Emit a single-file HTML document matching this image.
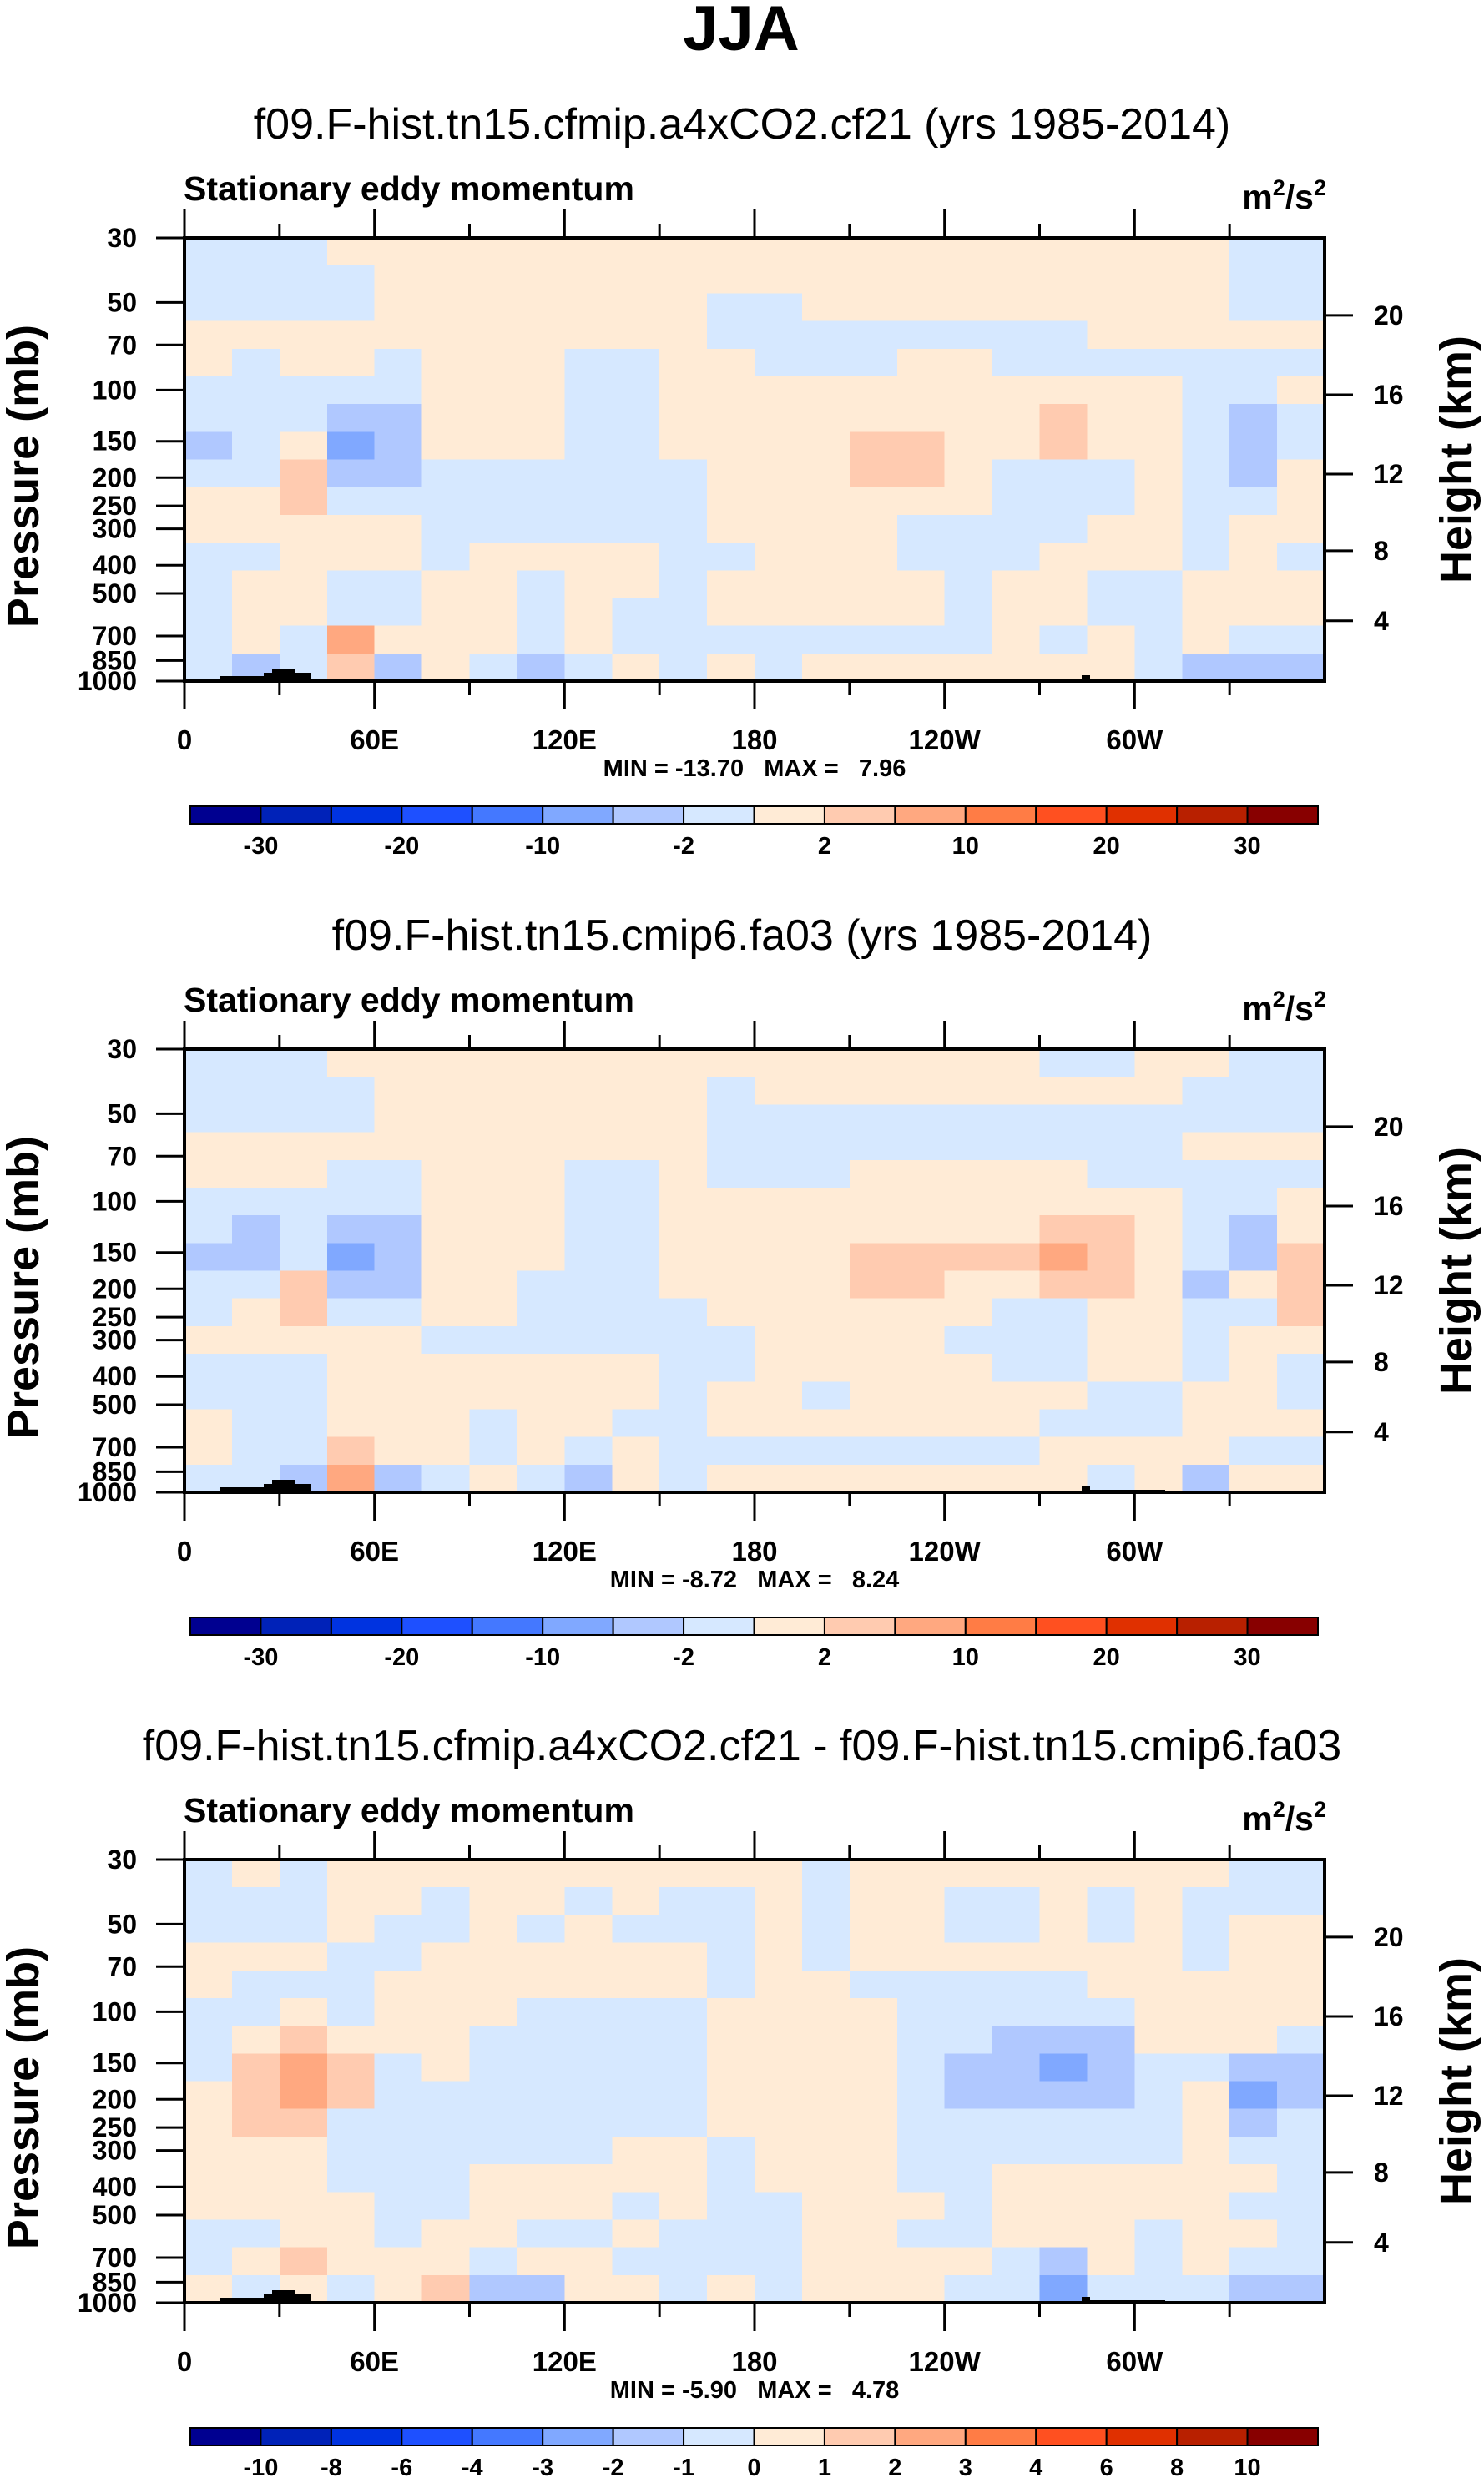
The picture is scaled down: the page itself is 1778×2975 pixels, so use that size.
<!DOCTYPE html>
<html><head><meta charset="utf-8"><style>
html,body{margin:0;padding:0;background:#fff;}
svg{display:block;font-family:"Liberation Sans",Arial,sans-serif;}
.pre{white-space:pre;}
</style></head><body>
<svg id="fig" width="1778" height="2975" viewBox="0 0 1778 2975" xmlns="http://www.w3.org/2000/svg">
<text x="888" y="60" text-anchor="middle" font-size="76" font-weight="bold">JJA</text>
</svg>
<script>
// ---- data ----
const lonTickLabels = ["0","60E","120E","180","120W","60W"];
const lonTicksMajor = [0,60,120,180,240,300];
const pressureTicks = [30,50,70,100,150,200,250,300,400,500,700,850,1000];
const heightTicks = [20,16,12,8,4];
const heightTickFrac = [0.175,0.354,0.533,0.706,0.864];
const cbLevelsA = [-30,-25,-20,-15,-10,-5,-2,0,2,5,10,15,20,25,30];
const cbShownA = [-30,-20,-10,-2,2,10,20,30];
const cbLevelsB = [-10,-8,-6,-4,-3,-2,-1,0,1,2,3,4,6,8,10];
const cbShownB = [-10,-8,-6,-4,-3,-2,-1,0,1,2,3,4,6,8,10];
const titles = ["f09.F-hist.tn15.cfmip.a4xCO2.cf21 (yrs 1985-2014)","f09.F-hist.tn15.cmip6.fa03 (yrs 1985-2014)","f09.F-hist.tn15.cfmip.a4xCO2.cf21 - f09.F-hist.tn15.cmip6.fa03"];
const minVals = ["-13.70","-8.72","-5.90"];
const maxVals = ["7.96","8.24","4.78"];

const grid1 = [
[-1,-1,-1,1,1,1,1,1,1,1,1,1,1,1,1,1,1,1,1,1,1,1,-1,-1],
[-1,-1,-1,-1,1,1,1,1,1,1,1,1,1,1,1,1,1,1,1,1,1,1,-1,-1],
[-1,-1,-1,-1,1,1,1,1,1,1,1,-1,-1,1,1,1,1,1,1,1,1,1,-1,-1],
[1,1,1,1,1,1,1,1,1,1,1,-1,-1,-1,-1,-1,-1,-1,-1,1,1,1,1,1],
[1,-1,1,1,-1,1,1,1,-1,-1,1,1,-1,-1,-1,1,1,-1,-1,-1,-1,-1,-1,-1],
[-1,-1,-1,-1,-1,1,1,1,-1,-1,1,1,1,1,1,1,1,1,1,1,1,-1,-1,1],
[-1,-1,-1,-3,-3,1,1,1,-1,-1,1,1,1,1,1,1,1,1,3,1,1,-1,-3,-1],
[-3,-1,1,-7,-3,1,1,1,-1,-1,1,1,1,1,3,3,1,1,3,1,1,-1,-3,-1],
[-1,-1,3,-3,-3,-1,-1,-1,-1,-1,-1,1,1,1,3,3,1,-1,-1,-1,1,-1,-3,1],
[1,1,3,-1,-1,-1,-1,-1,-1,-1,-1,1,1,1,1,1,1,-1,-1,-1,1,-1,-1,1],
[1,1,1,1,1,-1,-1,-1,-1,-1,-1,1,1,1,1,-1,-1,-1,-1,1,1,-1,1,1],
[-1,-1,1,1,1,-1,1,1,1,1,-1,-1,1,1,1,-1,-1,-1,1,1,1,-1,1,-1],
[-1,1,1,-1,-1,1,1,-1,1,1,-1,1,1,1,1,1,-1,1,1,-1,-1,1,1,1],
[-1,1,1,-1,-1,1,1,-1,1,-1,-1,1,1,1,1,1,-1,1,1,-1,-1,1,1,1],
[-1,1,-1,7,1,1,1,-1,1,-1,-1,-1,-1,-1,-1,-1,-1,1,-1,1,-1,1,-1,-1],
[-1,-3,-1,3,-3,1,-1,-3,-1,1,-1,1,-1,1,1,1,1,1,1,1,-1,-3,-3,-3]
];
const grid2 = [
[-1,-1,-1,1,1,1,1,1,1,1,1,1,1,1,1,1,1,1,-1,-1,1,1,-1,-1],
[-1,-1,-1,-1,1,1,1,1,1,1,1,-1,1,1,1,1,1,1,1,1,1,-1,-1,-1],
[-1,-1,-1,-1,1,1,1,1,1,1,1,-1,-1,-1,-1,-1,-1,-1,-1,-1,-1,-1,-1,-1],
[1,1,1,1,1,1,1,1,1,1,1,-1,-1,-1,-1,-1,-1,-1,-1,-1,-1,1,1,1],
[1,1,1,-1,-1,1,1,1,-1,-1,1,-1,-1,-1,1,1,1,1,1,-1,-1,-1,-1,-1],
[-1,-1,-1,-1,-1,1,1,1,-1,-1,1,1,1,1,1,1,1,1,1,1,1,-1,-1,1],
[-1,-3,-1,-3,-3,1,1,1,-1,-1,1,1,1,1,1,1,1,1,3,3,1,-1,-3,1],
[-3,-3,-1,-7,-3,1,1,1,-1,-1,1,1,1,1,3,3,3,3,7,3,1,-1,-3,3],
[-1,-1,3,-3,-3,1,1,-1,-1,-1,1,1,1,1,3,3,1,1,3,3,1,-3,1,3],
[-1,1,3,-1,-1,1,1,-1,-1,-1,-1,1,1,1,1,1,1,-1,-1,1,1,-1,-1,3],
[1,1,1,1,1,-1,-1,-1,-1,-1,-1,-1,1,1,1,1,-1,-1,-1,1,1,-1,1,1],
[-1,-1,-1,1,1,1,1,1,1,1,-1,-1,1,1,1,1,1,-1,-1,1,1,-1,1,-1],
[-1,-1,-1,1,1,1,1,1,1,1,-1,1,1,-1,1,1,1,1,1,-1,-1,1,1,-1],
[1,-1,-1,1,1,1,-1,1,1,-1,-1,1,1,1,1,1,1,1,-1,-1,-1,1,1,1],
[1,-1,-1,3,1,1,-1,1,-1,1,-1,-1,-1,-1,-1,-1,-1,-1,1,1,1,1,-1,-1],
[-1,-1,-3,7,-3,-1,1,-1,-3,1,-1,1,1,1,1,1,1,1,1,-1,1,-3,1,1]
];
const grid3 = [
[-0.5,0.5,-0.5,0.5,0.5,0.5,0.5,0.5,0.5,0.5,0.5,0.5,0.5,-0.5,0.5,0.5,0.5,0.5,0.5,0.5,0.5,0.5,-0.5,-0.5],
[-0.5,-0.5,-0.5,0.5,0.5,-0.5,0.5,0.5,-0.5,0.5,-0.5,-0.5,0.5,-0.5,0.5,0.5,-0.5,-0.5,0.5,-0.5,0.5,-0.5,-0.5,-0.5],
[-0.5,-0.5,-0.5,0.5,-0.5,-0.5,0.5,-0.5,0.5,-0.5,-0.5,-0.5,0.5,-0.5,0.5,0.5,-0.5,-0.5,0.5,-0.5,0.5,-0.5,0.5,0.5],
[0.5,0.5,0.5,-0.5,-0.5,0.5,0.5,0.5,0.5,0.5,0.5,-0.5,0.5,-0.5,0.5,0.5,0.5,0.5,0.5,0.5,0.5,-0.5,0.5,0.5],
[0.5,-0.5,-0.5,-0.5,0.5,0.5,0.5,0.5,0.5,0.5,0.5,-0.5,0.5,0.5,-0.5,-0.5,-0.5,-0.5,-0.5,0.5,0.5,0.5,0.5,0.5],
[-0.5,-0.5,0.5,-0.5,0.5,0.5,0.5,-0.5,-0.5,-0.5,-0.5,0.5,0.5,0.5,0.5,-0.5,-0.5,-0.5,-0.5,-0.5,0.5,0.5,0.5,0.5],
[-0.5,0.5,1.5,0.5,0.5,0.5,-0.5,-0.5,-0.5,-0.5,-0.5,0.5,0.5,0.5,0.5,-0.5,-0.5,-1.5,-1.5,-1.5,0.5,0.5,0.5,-0.5],
[-0.5,1.5,2.5,1.5,-0.5,0.5,-0.5,-0.5,-0.5,-0.5,-0.5,0.5,0.5,0.5,0.5,-0.5,-1.5,-1.5,-2.5,-1.5,-0.5,-0.5,-1.5,-1.5],
[0.5,1.5,2.5,1.5,-0.5,-0.5,-0.5,-0.5,-0.5,-0.5,-0.5,0.5,0.5,0.5,0.5,-0.5,-1.5,-1.5,-1.5,-1.5,-0.5,0.5,-2.5,-1.5],
[0.5,1.5,1.5,-0.5,-0.5,-0.5,-0.5,-0.5,-0.5,-0.5,-0.5,0.5,0.5,0.5,0.5,-0.5,-0.5,-0.5,-0.5,-0.5,-0.5,0.5,-1.5,-0.5],
[0.5,0.5,0.5,-0.5,-0.5,-0.5,-0.5,-0.5,-0.5,0.5,0.5,-0.5,0.5,0.5,0.5,-0.5,-0.5,-0.5,-0.5,-0.5,-0.5,0.5,-0.5,-0.5],
[0.5,0.5,0.5,-0.5,-0.5,-0.5,0.5,0.5,0.5,0.5,0.5,-0.5,0.5,0.5,0.5,-0.5,-0.5,0.5,0.5,0.5,0.5,0.5,0.5,-0.5],
[0.5,0.5,0.5,0.5,-0.5,-0.5,0.5,0.5,0.5,-0.5,0.5,-0.5,-0.5,0.5,0.5,0.5,-0.5,0.5,0.5,0.5,0.5,0.5,-0.5,-0.5],
[-0.5,-0.5,0.5,0.5,-0.5,0.5,0.5,-0.5,-0.5,0.5,-0.5,-0.5,-0.5,0.5,0.5,-0.5,-0.5,0.5,0.5,0.5,-0.5,0.5,0.5,-0.5],
[-0.5,0.5,1.5,0.5,0.5,0.5,-0.5,0.5,0.5,-0.5,-0.5,-0.5,-0.5,0.5,0.5,0.5,0.5,-0.5,-1.5,0.5,-0.5,0.5,-0.5,-0.5],
[0.5,-0.5,0.5,-0.5,0.5,1.5,-1.5,-1.5,0.5,0.5,-0.5,0.5,-0.5,0.5,0.5,0.5,-0.5,-0.5,-2.5,-0.5,-0.5,-0.5,-1.5,-1.5]
];
const grids = [grid1, grid2, grid3];
const colors = ["#000090","#0022b8","#0033e0","#1e50ff","#4478ff","#80a8ff","#b0c8ff","#d6e8ff","#ffebd6","#ffcbb0","#ffa880","#ff7c45","#ff5020","#e03000","#b82000","#880000"];

// ---- layout ----
const NS = "http://www.w3.org/2000/svg";
const svg = document.getElementById('fig');
const L = 221, R = 1587, T0 = 285, H = 531;
const W = R - L;
const panelOffsets = [0, 972, 1943];
function mk(tag, attrs, parent) {
  const e = document.createElementNS(NS, tag);
  for (const k in attrs) e.setAttribute(k, attrs[k]);
  (parent || svg).appendChild(e);
  return e;
}
function xScale(lon) { return L + lon / 360 * W; }
function yScale(p, top) { return top + Math.log(p / 30) / Math.log(1000 / 30) * H; }
function colorFor(v, levels) { let i = 0; for (const l of levels) if (v > l) i++; return colors[i]; }

panelOffsets.forEach((off, pi) => {
  const top = T0 + off;
  const levels = pi < 2 ? cbLevelsA : cbLevelsB;
  const shown = pi < 2 ? cbShownA : cbShownB;
  const g = mk('g', {});
  
  

  const st = mk('text', {x: 889, y: 166 + off, 'text-anchor': 'middle', 'font-size': 52}, g);
  
  
  st.textContent = titles[pi];

  const lt = mk('text', {x: 220, y: 240 + off, 'font-size': 41, 'font-weight': 'bold'}, g);
  
  
  lt.textContent = 'Stationary eddy momentum';

  const ut = mk('text', {x: 1589, y: 250 + off, 'text-anchor': 'end', 'font-size': 41, 'font-weight': 'bold'}, g);
  
  
  ut.innerHTML = 'm<tspan font-size="27" dy="-16">2</tspan><tspan dy="16">/s</tspan><tspan font-size="27" dy="-16">2</tspan>';

  // field cells
  const grid = grids[pi];
  const nr = grid.length, nc = grid[0].length;
  const fg = mk('g', {'shape-rendering': 'crispEdges'}, g);
  
  
  grid.forEach((row, r) => {
    row.forEach((v, c) => {
      const x0 = xScale(c * 360 / nc), x1 = xScale((c + 1) * 360 / nc);
      const y0 = top + r * H / nr, y1 = top + (r + 1) * H / nr;
      const rc = mk('rect', {x: x0, y: y0, width: x1 - x0 + 0.6, height: y1 - y0 + 0.6, fill: colorFor(v, levels)}, fg);
      
      
    });
  });
  // topography
  const topo = mk('path', {d: `M${L+43},${top+H} L${L+43},${top+H-6} L${L+95},${top+H-6} L${L+95},${top+H-10} L${L+105},${top+H-10} L${L+105},${top+H-15} L${L+133},${top+H-15} L${L+133},${top+H-10} L${L+152},${top+H-10} L${L+152},${top+H} Z M${L+1075},${top+H} L${L+1075},${top+H-7} L${L+1085},${top+H-7} L${L+1085},${top+H-3} L${L+1175},${top+H-3} L${L+1175},${top+H} Z`, fill: '#000'}, g);
  
  

  // frame
  const fr = mk('rect', {x: L, y: top, width: W, height: H, fill: 'none', stroke: '#000', 'stroke-width': 4}, g);
  
  

  // x ticks
  for (let lon = 0; lon <= 330; lon += 30) {
    const major = lon % 60 === 0;
    const x = xScale(lon);
    const len = major ? 34 : 17;
    const tb = mk('line', {x1: x, x2: x, y1: top + H, y2: top + H + len, stroke: '#000', 'stroke-width': 3}, g);
    
    
    const tt = mk('line', {x1: x, x2: x, y1: top, y2: top - len, stroke: '#000', 'stroke-width': 3}, g);
    
    
  }
  lonTicksMajor.forEach((lon, i) => {
    const t = mk('text', {x: xScale(lon), y: top + H + 82, 'text-anchor': 'middle', 'font-size': 33, 'font-weight': 'bold'}, g);
    
    
    t.textContent = lonTickLabels[i];
  });
  // pressure ticks
  pressureTicks.forEach(p => {
    const y = yScale(p, top);
    const ln = mk('line', {x1: L - 34, x2: L, y1: y, y2: y, stroke: '#000', 'stroke-width': 3}, g);
    
    
    const t = mk('text', {x: 164, y: y + 11, 'text-anchor': 'end', 'font-size': 32, 'font-weight': 'bold'}, g);
    
    
    t.textContent = p;
  });
  const yt = mk('text', {x: 0, y: 0, 'text-anchor': 'middle', 'font-size': 54, 'font-weight': 'bold', transform: `translate(46,${top + H / 2 + 20}) rotate(-90)`}, g);
  
  
  yt.textContent = 'Pressure (mb)';
  // height ticks
  heightTicks.forEach((h, i) => {
    const y = top + heightTickFrac[i] * H;
    const ln = mk('line', {x1: R, x2: R + 34, y1: y, y2: y, stroke: '#000', 'stroke-width': 3}, g);
    
    
    const t = mk('text', {x: 1646, y: y + 11, 'font-size': 32, 'font-weight': 'bold'}, g);
    
    
    t.textContent = h;
  });
  const ht = mk('text', {x: 0, y: 0, 'text-anchor': 'middle', 'font-size': 54, 'font-weight': 'bold', transform: `translate(1763,${top + H / 2}) rotate(-90)`}, g);
  
  
  ht.textContent = 'Height (km)';
  // min/max
  const mm = mk('text', {x: 904, y: top + H + 114, 'text-anchor': 'middle', 'font-size': 29, 'font-weight': 'bold', 'class': 'pre'}, g);
  
  
  mm.textContent = 'MIN = ' + minVals[pi] + '   MAX =   ' + maxVals[pi];
  // colorbar
  const cbL = 228, cbW = 1351, cbT = 966 + off, cbH = 21;
  const bw = cbW / 16;
  const cb = mk('g', {}, g);
  
  
  colors.forEach((c, i) => {
    const b = mk('rect', {x: cbL + i * bw, y: cbT, width: bw, height: cbH, fill: c, stroke: '#000', 'stroke-width': 2}, cb);
    
    
  });
  levels.forEach((lv, i) => {
    if (shown.indexOf(lv) < 0) return;
    const t = mk('text', {x: cbL + (i + 1) * bw, y: cbT + 57, 'text-anchor': 'middle', 'font-size': 29, 'font-weight': 'bold'}, cb);
    
    
    t.textContent = lv;
  });
});
</script>
</body></html>
